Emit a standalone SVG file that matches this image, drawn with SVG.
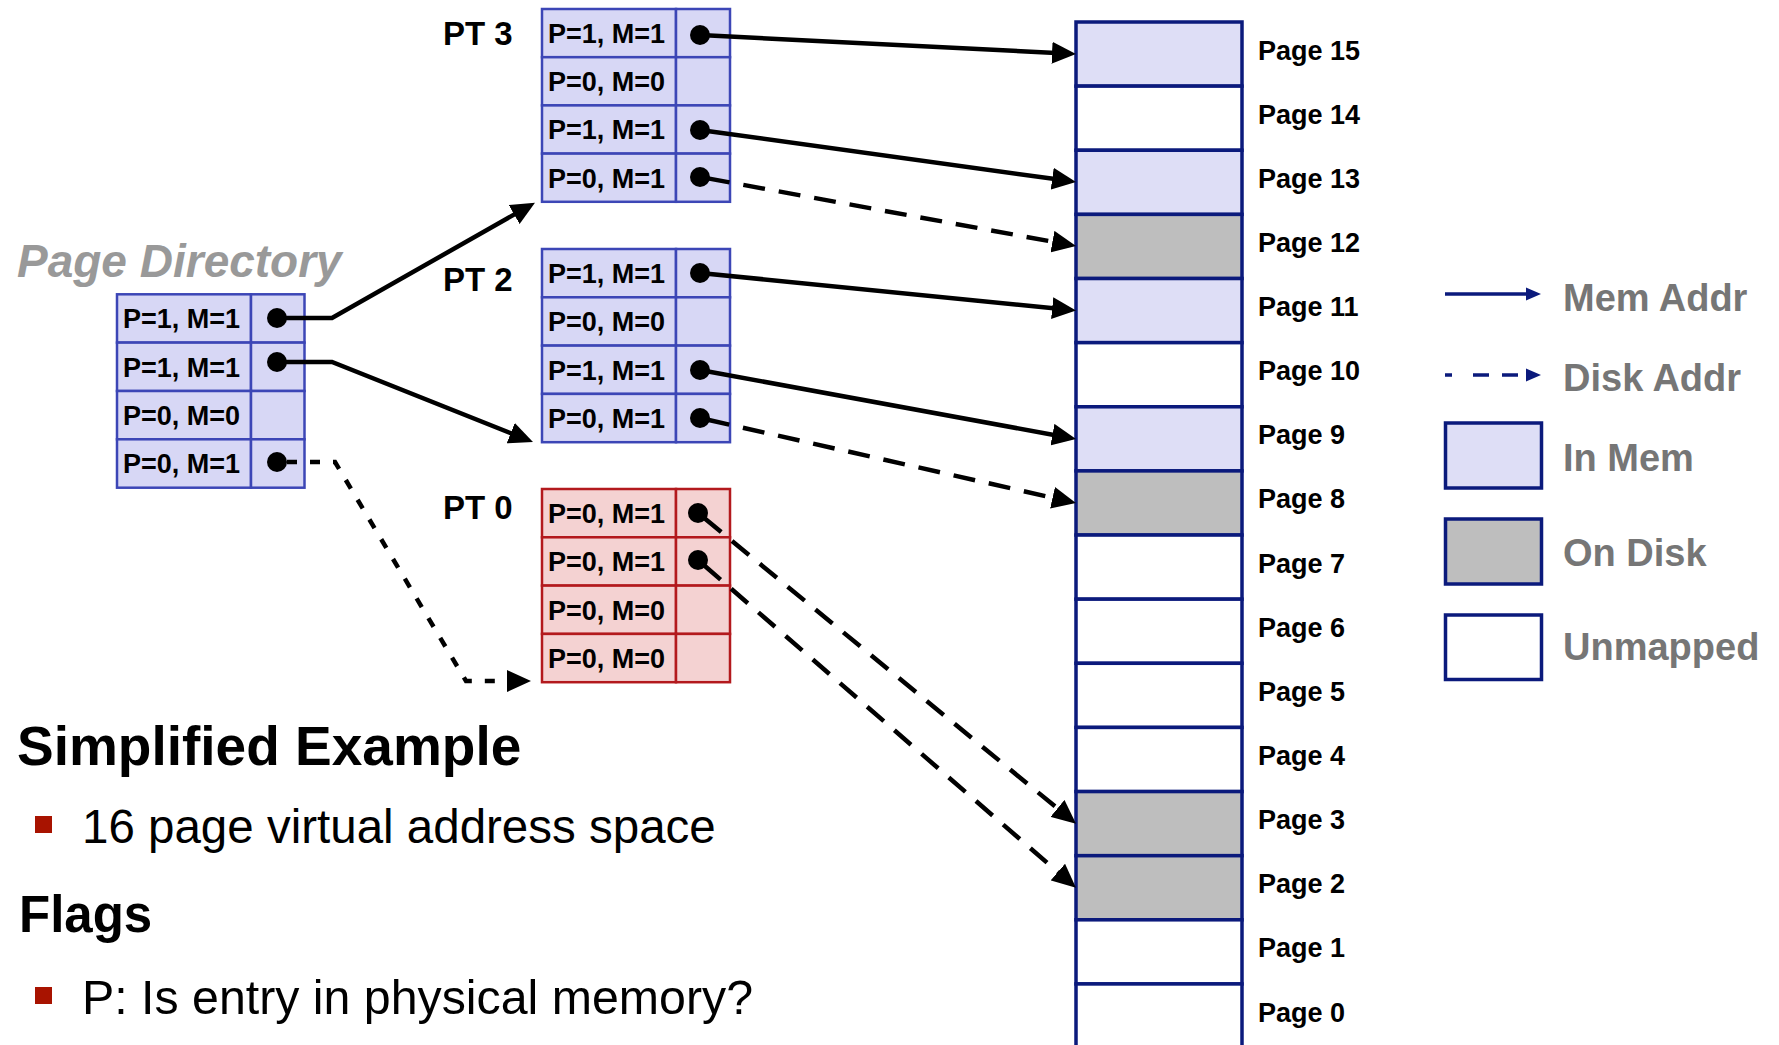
<svg xmlns="http://www.w3.org/2000/svg" width="1779" height="1045" viewBox="0 0 1779 1045">
<defs>
<style>
.bt rect{fill:#d7d7f5;stroke:#3c46b6;stroke-width:2.5}
.rt rect{fill:#f4d2d2;stroke:#b3191d;stroke-width:2.5}
.ct{font-family:"Liberation Sans",Arial,sans-serif;font-weight:bold;font-size:27px;fill:#000}
.lbl{font-family:"Liberation Sans",Arial,sans-serif;font-weight:bold;font-size:33px;fill:#000}
.pg{font-family:"Liberation Sans",Arial,sans-serif;font-weight:bold;font-size:27px;fill:#000}
.leg{font-family:"Liberation Sans",Arial,sans-serif;font-weight:bold;font-size:38px;fill:#767676}
.mem{fill:#dedef6}.dsk{fill:#bebebe}.un{fill:#fff}
.pcol rect{stroke:#0b1a7c;stroke-width:3.5}
.dot{fill:#000}
.cn{fill:none;stroke:#000;stroke-width:4.5}
.sol{marker-end:url(#ah)}
.dash{stroke-dasharray:22 14;marker-end:url(#ah)}
.dotd{stroke-dasharray:10 13;marker-end:url(#ah)}
</style>
<marker id="ah" markerUnits="userSpaceOnUse" markerWidth="24" markerHeight="22" refX="14" refY="11" orient="auto"><path d="M0,0 L24,11 L0,22 z" fill="#000"/></marker>
</defs>
<rect width="1779" height="1045" fill="#fff"/>

<!-- Physical pages -->
<g id="pages" class="pcol">
<rect class="mem" x="1076" y="22" width="166" height="64.13"/>
<rect class="un" x="1076" y="86.13" width="166" height="64.13"/>
<rect class="mem" x="1076" y="150.26" width="166" height="64.13"/>
<rect class="dsk" x="1076" y="214.39" width="166" height="64.13"/>
<rect class="mem" x="1076" y="278.52" width="166" height="64.13"/>
<rect class="un" x="1076" y="342.65" width="166" height="64.13"/>
<rect class="mem" x="1076" y="406.78" width="166" height="64.13"/>
<rect class="dsk" x="1076" y="470.91" width="166" height="64.13"/>
<rect class="un" x="1076" y="535.04" width="166" height="64.13"/>
<rect class="un" x="1076" y="599.17" width="166" height="64.13"/>
<rect class="un" x="1076" y="663.3" width="166" height="64.13"/>
<rect class="un" x="1076" y="727.43" width="166" height="64.13"/>
<rect class="dsk" x="1076" y="791.56" width="166" height="64.13"/>
<rect class="dsk" x="1076" y="855.69" width="166" height="64.13"/>
<rect class="un" x="1076" y="919.82" width="166" height="64.13"/>
<rect class="un" x="1076" y="983.95" width="166" height="64.13"/>
</g>
<g id="page-labels" class="pg">
<text x="1258" y="59.5">Page 15</text>
<text x="1258" y="123.6">Page 14</text>
<text x="1258" y="187.8">Page 13</text>
<text x="1258" y="251.9">Page 12</text>
<text x="1258" y="316">Page 11</text>
<text x="1258" y="380.2">Page 10</text>
<text x="1258" y="444.3">Page 9</text>
<text x="1258" y="508.4">Page 8</text>
<text x="1258" y="572.5">Page 7</text>
<text x="1258" y="636.7">Page 6</text>
<text x="1258" y="700.8">Page 5</text>
<text x="1258" y="764.9">Page 4</text>
<text x="1258" y="829.1">Page 3</text>
<text x="1258" y="893.2">Page 2</text>
<text x="1258" y="957.3">Page 1</text>
<text x="1258" y="1021.5">Page 0</text>
</g>

<!-- Page Directory -->
<text id="pd-title" x="17" y="277" font-family="'Liberation Sans',Arial,sans-serif" font-weight="bold" font-style="italic" font-size="46" fill="#999999">Page Directory</text>
<g id="page-directory" class="bt">
<rect x="117" y="294.3" width="134" height="48.3"/><rect x="251" y="294.3" width="53.5" height="48.3"/>
<rect x="117" y="342.6" width="134" height="48.4"/><rect x="251" y="342.6" width="53.5" height="48.4"/>
<rect x="117" y="391" width="134" height="48.3"/><rect x="251" y="391" width="53.5" height="48.3"/>
<rect x="117" y="439.3" width="134" height="48.4"/><rect x="251" y="439.3" width="53.5" height="48.4"/>
<text class="ct" x="123" y="328.3">P=1, M=1</text>
<text class="ct" x="123" y="376.6">P=1, M=1</text>
<text class="ct" x="123" y="425">P=0, M=0</text>
<text class="ct" x="123" y="473.3">P=0, M=1</text>
</g>

<!-- PT 3 -->
<g id="pt3" class="bt">
<text class="lbl" x="443" y="45">PT 3</text>
<rect x="542" y="9" width="134" height="48.2"/><rect x="676" y="9" width="54" height="48.2"/>
<rect x="542" y="57.2" width="134" height="48.2"/><rect x="676" y="57.2" width="54" height="48.2"/>
<rect x="542" y="105.4" width="134" height="48.2"/><rect x="676" y="105.4" width="54" height="48.2"/>
<rect x="542" y="153.6" width="134" height="48.2"/><rect x="676" y="153.6" width="54" height="48.2"/>
<text class="ct" x="548" y="43">P=1, M=1</text>
<text class="ct" x="548" y="91.2">P=0, M=0</text>
<text class="ct" x="548" y="139.4">P=1, M=1</text>
<text class="ct" x="548" y="187.6">P=0, M=1</text>
</g>

<!-- PT 2 -->
<g id="pt2" class="bt">
<text class="lbl" x="443" y="290.5">PT 2</text>
<rect x="542" y="249" width="134" height="48.3"/><rect x="676" y="249" width="54" height="48.3"/>
<rect x="542" y="297.3" width="134" height="48.3"/><rect x="676" y="297.3" width="54" height="48.3"/>
<rect x="542" y="345.6" width="134" height="48.3"/><rect x="676" y="345.6" width="54" height="48.3"/>
<rect x="542" y="393.9" width="134" height="48.3"/><rect x="676" y="393.9" width="54" height="48.3"/>
<text class="ct" x="548" y="283">P=1, M=1</text>
<text class="ct" x="548" y="331.3">P=0, M=0</text>
<text class="ct" x="548" y="379.6">P=1, M=1</text>
<text class="ct" x="548" y="427.9">P=0, M=1</text>
</g>

<!-- PT 0 -->
<g id="pt0" class="rt">
<text class="lbl" x="443" y="519">PT 0</text>
<rect x="542" y="489" width="134" height="48.3"/><rect x="676" y="489" width="54" height="48.3"/>
<rect x="542" y="537.3" width="134" height="48.3"/><rect x="676" y="537.3" width="54" height="48.3"/>
<rect x="542" y="585.6" width="134" height="48.3"/><rect x="676" y="585.6" width="54" height="48.3"/>
<rect x="542" y="633.9" width="134" height="48.3"/><rect x="676" y="633.9" width="54" height="48.3"/>
<text class="ct" x="548" y="523">P=0, M=1</text>
<text class="ct" x="548" y="571.3">P=0, M=1</text>
<text class="ct" x="548" y="619.6">P=0, M=0</text>
<text class="ct" x="548" y="667.9">P=0, M=0</text>
</g>

<!-- Connectors -->
<g id="connectors">
<path class="cn sol" d="M277,318 H332 L526.3,207.6"/>
<path class="cn sol" d="M277,362 H332 L523.7,438.3"/>
<path class="cn dotd" d="M287,462 H335 L466,681 H521"/>
<path class="cn sol" d="M700,35 L1066,53.5"/>
<path class="cn sol" d="M700,130 L1066.1,180.6"/>
<path class="cn dash" d="M707.9,178.4 L1066.2,244.2"/>
<path class="cn sol" d="M700,273 L1066.1,309.5"/>
<path class="cn sol" d="M700,370 L1066.2,437.2"/>
<path class="cn dash" d="M707.8,419.8 L1066.2,500.8"/>
<path class="cn dash" d="M704.2,518.1 L1068.3,817.3"/>
<path class="cn dash" d="M704,565.2 L1068.4,881.2"/>
<g class="dot">
<circle cx="277" cy="318" r="10"/>
<circle cx="277" cy="362" r="10"/>
<circle cx="277" cy="462" r="10"/>
<circle cx="700" cy="35" r="10"/>
<circle cx="700" cy="130" r="10"/>
<circle cx="700" cy="177" r="10"/>
<circle cx="700" cy="273" r="10"/>
<circle cx="700" cy="370" r="10"/>
<circle cx="700" cy="418" r="10"/>
<circle cx="698" cy="513" r="10"/>
<circle cx="698" cy="560" r="10"/>
</g>
</g>

<!-- Legend -->
<g id="legend">
<g id="leg-mem-addr">
<path d="M1445,294 H1528" stroke="#0b1a7c" stroke-width="3.5" fill="none"/>
<polygon points="1526,287.5 1541,294 1526,300.5" fill="#0b1a7c"/>
<text class="leg" x="1563" y="310.5">Mem Addr</text>
</g>
<g id="leg-disk-addr">
<path d="M1445,375 H1452 M1473,375 H1489 M1502,375 H1518" stroke="#0b1a7c" stroke-width="3.5" fill="none"/>
<polygon points="1526,368.5 1541,375 1526,381.5" fill="#0b1a7c"/>
<text class="leg" x="1563" y="390.5">Disk Addr</text>
</g>
<g id="leg-in-mem">
<rect x="1445.5" y="423" width="96" height="65" fill="#dedef6" stroke="#0b1a7c" stroke-width="3.5"/>
<text class="leg" x="1563" y="471">In Mem</text>
</g>
<g id="leg-on-disk">
<rect x="1445.5" y="519" width="96" height="65" fill="#bebebe" stroke="#0b1a7c" stroke-width="3.5"/>
<text class="leg" x="1563" y="566">On Disk</text>
</g>
<g id="leg-unmapped">
<rect x="1445.5" y="615" width="96" height="64.5" fill="#fff" stroke="#0b1a7c" stroke-width="3.5"/>
<text class="leg" x="1563" y="660">Unmapped</text>
</g>
</g>

<!-- Bottom text -->
<g id="notes" font-family="'Liberation Sans',Arial,sans-serif">
<text x="17" y="765" font-size="55" font-weight="bold">Simplified Example</text>
<rect x="35" y="816" width="17" height="17" fill="#a81300"/>
<text x="82" y="843" font-size="47.5">16 page virtual address space</text>
<text x="19" y="931.5" font-size="51" font-weight="bold">Flags</text>
<rect x="35" y="987" width="17" height="17" fill="#a81300"/>
<text x="82" y="1013.5" font-size="48.3">P: Is entry in physical memory?</text>
</g>
</svg>
